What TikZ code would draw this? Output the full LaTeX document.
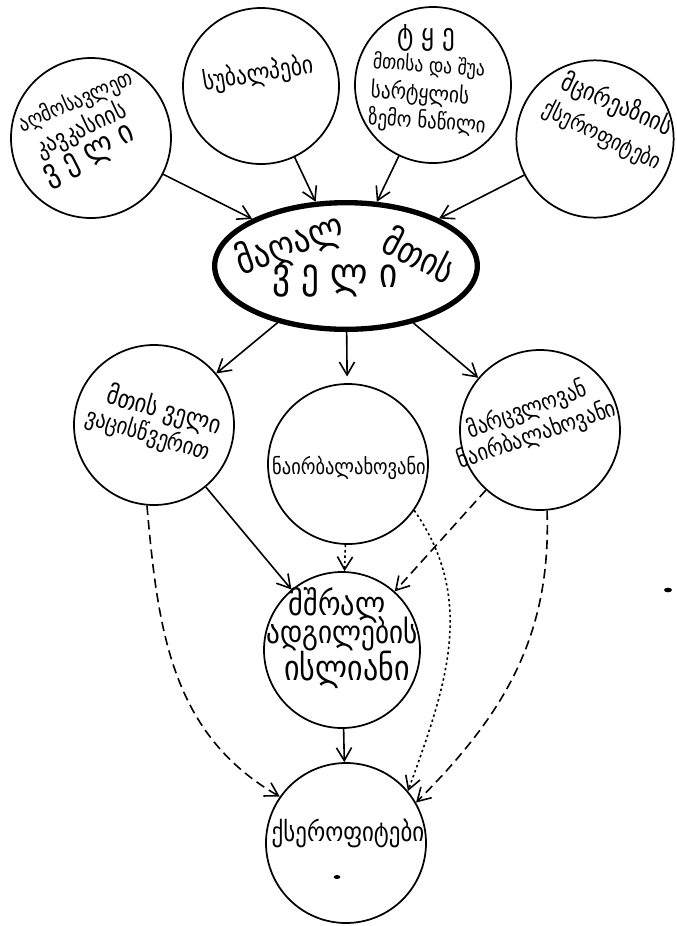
\documentclass[tikz,border=0pt]{standalone}
\usepackage{fontspec}
\newfontfamily\geo[FakeStretch=0.85]{DejaVu Sans}
\usetikzlibrary{arrows.meta,shapes.geometric}
\newcommand{\gsz}[1]{\geo\fontsize{#1}{1.2\dimexpr #1pt\relax}\selectfont}
\tikzset{
  zone/.style ={circle, draw, line width=1.3pt, minimum size=120pt, inner sep=0pt},
  core/.style ={ellipse, draw, line width=4pt, minimum width=197pt, minimum height=95pt, inner sep=0pt},
  lbl/.style  ={inner sep=0pt},
  speck/.style={ellipse, fill, inner sep=0pt},
  arr/.style  ={-{Straight Barb[length=3.4mm,width=4mm]}, line width=1.2pt},
  dsh/.style  ={arr, dash pattern=on 7pt off 4pt},
  dts/.style  ={arr, dash pattern=on 1.8pt off 2.2pt},
}
\begin{document}
\begin{tikzpicture}[x=0.75pt, y=0.75pt]
  \useasboundingbox (0,0) rectangle (676,-926);
  % upper zones
  \node[zone] (east) at (91,-138) {};
  \node[zone, minimum size=117pt] (subalp) at (261,-86) {};
  \node[zone, minimum size=117pt] (forest) at (433,-85) {};
  \node[zone, minimum size=118pt] (asia) at (595,-139) {};
  % high mountain steppe
  \node[core] (steppe) at (346,-266) {};
  % middle zones
  \node[zone] (stipa) at (154,-425) {};
  \node[zone] (herb) at (348,-464) {};
  \node[zone] (grass) at (540,-430) {};
  % lower zones
  \node[zone, minimum size=117pt] (sedge) at (342,-650) {};
  \node[zone] (xero) at (346,-843) {};
  % texts, line by line
  \node[lbl, rotate=23.5, font=\gsz{16.5}] (east1) at (76,-102) {აღმოსავლეთ};
  \node[lbl, rotate=25, font=\gsz{18.5}] (east2) at (81,-130) {კავკასიის};
  \node[lbl, rotate=27, font=\gsz{24.5}] (east3) at (90,-157) {ვ ე ლ ი};
  \node[lbl, rotate=9, font=\gsz{19}] (subalp1) at (258,-74) {სუბალპები};
  \node[lbl, font=\gsz{22}] (forest1) at (426,-38) {ტ ყ ე};
  \node[lbl, rotate=-4, font=\gsz{15.5}] (forest2) at (429,-66) {მთისა და შუა};
  \node[lbl, rotate=-4, font=\gsz{17}] (forest3) at (420,-94) {სარტყლის};
  \node[lbl, rotate=-4, font=\gsz{16.5}] (forest4) at (427,-122) {ზემო ნაწილი};
  \node[lbl, rotate=-23.5, font=\gsz{19}] (asia1) at (617,-105) {მცირეაზიის};
  \node[lbl, rotate=-26, font=\gsz{17}] (asia2) at (602,-136) {ქსეროფიტები};
  \node[lbl, rotate=20, font=\gsz{29}] (steppe1) at (290,-245) {მაღალ};
  \node[lbl, rotate=-27, font=\gsz{28}] (steppe2) at (420,-254) {მთის};
  \node[lbl, font=\gsz{31}] (steppe3) at (335,-281) {ვ ე ლ ი};
  \node[lbl, rotate=-15.5, font=\gsz{19.5}] (stipa1) at (164,-411) {მთის ველი};
  \node[lbl, rotate=-17, font=\gsz{18}] (stipa2) at (148,-435) {ვაცისწვერით};
  \node[lbl, font=\gsz{16.3}] (herb1) at (349,-468) {ნაირბალახოვანი};
  \node[lbl, rotate=20, font=\gsz{17.6}] (grass1) at (527,-410) {მარცვლოვან};
  \node[lbl, rotate=19, font=\gsz{17.6}] (grass2) at (537,-435) {ნაირბალახოვანი};
  \node[lbl, font=\gsz{25}] (sedge1) at (337,-605) {მშრალ};
  \node[lbl, font=\gsz{24}] (sedge2) at (342,-634) {ადგილების};
  \node[lbl, font=\gsz{26.5}] (sedge3) at (347,-670) {ისლიანი};
  \node[lbl, font=\gsz{20.2}] (xero1) at (348,-833) {ქსეროფიტები};
  \node[speck, minimum width=5pt, minimum height=3pt] (dot1) at (337,-877) {};
  \node[speck, minimum width=6pt, minimum height=3.5pt] (dot2) at (668,-590) {};
  % flows
  \draw[arr] (east) -- (steppe);
  \draw[arr] (subalp) -- (steppe);
  \draw[arr] (forest) -- (steppe);
  \draw[arr] (asia) -- (steppe);
  \draw[arr] (steppe) -- (stipa);
  \draw[arr, shorten >=5pt] (steppe) -- (herb);
  \draw[arr] (steppe) -- (grass);
  \draw[arr] (stipa) -- (sedge);
  \draw[dts] (herb) -- (sedge);
  \draw[dsh] (grass) -- (sedge);
  \draw[arr] (sedge) -- (xero);
  \draw[dsh] (stipa.-95) to[out=-85, in=150] (xero.145);
  \draw[dts] (herb.-35) to[out=-55, in=70] (xero.40);
  \draw[dsh] (grass.-85) to[out=-88, in=45] (xero.30);
\end{tikzpicture}
\end{document}
